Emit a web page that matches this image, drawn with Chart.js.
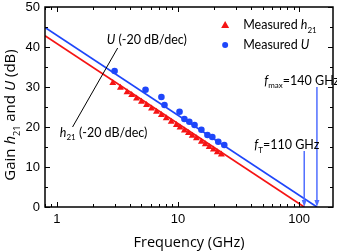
<!DOCTYPE html>
<html><head><meta charset="utf-8">
<script src="https://cdn.jsdelivr.net/npm/chart.js@4"></script>
<style>html,body{margin:0;padding:0;background:#fff}</style>
</head><body>
<canvas id="c" width="337" height="251"></canvas>
<script>
// ---- data ----
const h21Freq = [2.9, 3.35, 3.8, 4.15, 4.55, 5.0, 5.5, 6.05, 6.65, 7.3, 8.0, 8.8, 9.7, 10.4, 11.3, 12.2, 13.1, 14.2, 15.6, 16.8, 18.1, 19.6, 21.1, 22.8];
const h21Gain = [31.0, 29.8, 28.7, 28.0, 27.1, 26.3, 25.5, 24.6, 23.8, 23.0, 22.2, 21.3, 20.5, 19.9, 19.1, 18.5, 17.8, 17.2, 16.3, 15.7, 15.0, 14.4, 13.7, 13.1];
const uFreq = [3.0, 5.4, 7.3, 7.74, 10.3, 11.3, 12.4, 13.7, 15.6, 17.5, 19.2, 21.5, 24.1];
const uGain = [34.0, 29.3, 27.5, 25.5, 23.8, 22.0, 21.3, 20.5, 19.3, 18.0, 17.5, 16.3, 15.5];
const h21FitFreq = [0.8, 110];
const h21FitGain = [42.8, 0];
const uFitFreq = [0.8, 140];
const uFitGain = [44.9, 0];
const xTickLabels = [1, 10, 100];
const xMinorTicks = [0.8, 0.9, 2, 3, 4, 5, 6, 7, 8, 9, 20, 30, 40, 50, 60, 70, 80, 90];
const yMajorTicks = [0, 10, 20, 30, 40, 50];
const yMinorTicks = [5, 15, 25, 35, 45];
const fT = 110, fTTop = 14;
const fMax = 140, fMaxTop = 30;

const RED = 'rgb(245,20,20)';
const BLUE = 'rgb(30,70,250)';
const ARROW = 'rgb(80,110,255)';
const ANN = "Lato, 'Open Sans', sans-serif";
const TTL = "'Open Sans', sans-serif";

const pts = (xs, ys) => xs.map((x, i) => ({x, y: ys[i]}));

function drawRich(ctx, segs, x, y, size, align, family) {
  const sub = Math.round(size * 0.62);
  const fontOf = s => (s.it ? 'italic ' : '') + (s.sub ? sub : size) + 'px ' + family;
  let w = 0;
  segs.forEach(s => { ctx.font = fontOf(s); w += ctx.measureText(s.t).width; });
  let cx = align === 'center' ? x - w / 2 : x;
  ctx.textBaseline = 'alphabetic';
  ctx.textAlign = 'left';
  segs.forEach(s => {
    ctx.font = fontOf(s);
    ctx.fillText(s.t, cx, y + (s.sub ? size * 0.3 : 0));
    cx += ctx.measureText(s.t).width;
  });
}

const deco = {
  id: 'deco',
  afterDatasetsDraw(chart) {
    const {ctx, chartArea: a, scales: {x, y}} = chart;
    ctx.save();
    // arrows
    ctx.strokeStyle = ARROW; ctx.fillStyle = ARROW; ctx.lineWidth = 1.5;
    [[fT, fTTop], [fMax, fMaxTop]].forEach(([f, top]) => {
      const px = x.getPixelForValue(f), py0 = y.getPixelForValue(top), py1 = y.getPixelForValue(0);
      ctx.beginPath(); ctx.moveTo(px, py0); ctx.lineTo(px, py1 - 5); ctx.stroke();
      ctx.beginPath(); ctx.moveTo(px - 2.5, py1 - 7); ctx.lineTo(px + 2.5, py1 - 7); ctx.lineTo(px, py1); ctx.closePath(); ctx.fill();
    });
    // frame
    ctx.strokeStyle = '#000'; ctx.lineWidth = 1.5;
    ctx.strokeRect(a.left, a.top, a.right - a.left, a.bottom - a.top);
    ctx.lineWidth = 1;
    const tickX = (vals, len) => vals.forEach(v => {
      const px = Math.round(x.getPixelForValue(v)) + 0.5;
      if (px < a.left || px > a.right) return;
      ctx.beginPath(); ctx.moveTo(px, a.bottom); ctx.lineTo(px, a.bottom - len);
      ctx.moveTo(px, a.top); ctx.lineTo(px, a.top + len); ctx.stroke();
    });
    const tickY = (vals, len) => vals.forEach(v => {
      const py = Math.round(y.getPixelForValue(v)) + 0.5;
      ctx.beginPath(); ctx.moveTo(a.left, py); ctx.lineTo(a.left + len, py);
      ctx.moveTo(a.right, py); ctx.lineTo(a.right - len, py); ctx.stroke();
    });
    tickX(xTickLabels, 5); tickX(xMinorTicks, 3);
    tickY(yMajorTicks, 5); tickY(yMinorTicks, 3);

    // annotations
    ctx.fillStyle = '#000';
    drawRich(ctx, [{t: 'U', it: true}, {t: ' (-20 dB/dec)'}], x.getPixelForValue(2.58), y.getPixelForValue(40.8), 12.5, 'left', ANN);
    drawRich(ctx, [{t: 'h', it: true}, {t: '21', sub: true}, {t: ' (-20 dB/dec)'}], x.getPixelForValue(1.06), y.getPixelForValue(17.6), 12.5, 'left', ANN);
    ctx.strokeStyle = '#000'; ctx.lineWidth = 1;
    ctx.beginPath();
    ctx.moveTo(x.getPixelForValue(3.18), y.getPixelForValue(39.75));
    ctx.lineTo(x.getPixelForValue(1.35), y.getPixelForValue(20));
    ctx.stroke();
    drawRich(ctx, [{t: 'f', it: true}, {t: 'T', sub: true}, {t: '=110 GHz'}], x.getPixelForValue(42.6), y.getPixelForValue(14.4), 12.5, 'left', ANN);
    drawRich(ctx, [{t: 'f', it: true}, {t: 'max', sub: true}, {t: '=140 GHz'}], x.getPixelForValue(51.5), y.getPixelForValue(30.6), 12.5, 'left', ANN);

    // legend
    const lx = x.getPixelForValue(24.5);
    const ly1 = y.getPixelForValue(45.5), ly2 = y.getPixelForValue(40.5);
    ctx.fillStyle = RED;
    ctx.beginPath(); ctx.moveTo(lx, ly1 - 4); ctx.lineTo(lx + 4, ly1 + 3); ctx.lineTo(lx - 4, ly1 + 3); ctx.closePath(); ctx.fill();
    ctx.fillStyle = BLUE;
    ctx.beginPath(); ctx.arc(lx, ly2, 3, 0, Math.PI * 2); ctx.fill();
    ctx.fillStyle = '#000';
    drawRich(ctx, [{t: 'Measured '}, {t: 'h', it: true}, {t: '21', sub: true}], lx + 18, ly1 + 4, 12.5, 'left', ANN);
    drawRich(ctx, [{t: 'Measured '}, {t: 'U', it: true}], lx + 18, ly2 + 4, 12.5, 'left', ANN);

    // y title
    ctx.save();
    ctx.translate(15, (a.top + a.bottom) / 2 + 8);
    ctx.rotate(-Math.PI / 2);
    drawRich(ctx, [{t: 'Gain '}, {t: 'h', it: true}, {t: '21', sub: true}, {t: ' and '}, {t: 'U', it: true}, {t: ' (dB)'}], 0, 0, 15, 'center', TTL);
    ctx.restore();
    // x title
    drawRich(ctx, [{t: 'Frequency (GHz)'}], (a.left + a.right) / 2, 247, 14.5, 'center', TTL);
    ctx.restore();
  }
};

new Chart(document.getElementById('c'), {
  type: 'scatter',
  data: {
    datasets: [
      {type: 'line', data: pts(h21FitFreq, h21FitGain), borderColor: RED, borderWidth: 1.7, pointRadius: 0, fill: false},
      {type: 'line', data: pts(uFitFreq, uFitGain), borderColor: BLUE, borderWidth: 1.7, pointRadius: 0, fill: false},
      {data: pts(h21Freq, h21Gain), pointStyle: 'triangle', pointRadius: 4, backgroundColor: RED, borderWidth: 0},
      {data: pts(uFreq, uGain), pointStyle: 'circle', pointRadius: 3.3, backgroundColor: BLUE, borderWidth: 0}
    ]
  },
  options: {
    responsive: false, animation: false, devicePixelRatio: 1,
    layout: {padding: {top: 7, right: 3, left: 0, bottom: 0}},
    plugins: {legend: {display: false}, tooltip: {enabled: false}},
    scales: {
      x: {
        type: 'logarithmic', min: 0.8, max: 190,
        grid: {display: false, drawTicks: false}, border: {display: false},
        ticks: {
          autoSkip: false, maxRotation: 0, padding: 5, color: '#000',
          font: {family: "'Liberation Sans', Arial, sans-serif", size: 13},
          callback: v => xTickLabels.some(t => Math.abs(t - v) < 1e-6) ? String(Math.round(v)) : ''
        },
        afterFit: s => { s.height = 44; s.paddingLeft = 0; s.paddingRight = 0; }
      },
      y: {
        min: 0, max: 50,
        grid: {display: false, drawTicks: false}, border: {display: false},
        ticks: {stepSize: 10, padding: 5, color: '#000', font: {family: "'Liberation Sans', Arial, sans-serif", size: 13}},
        afterFit: s => { s.width = 45; s.paddingTop = 0; s.paddingBottom = 0; }
      }
    }
  },
  plugins: [deco]
});
</script>
</body></html>
